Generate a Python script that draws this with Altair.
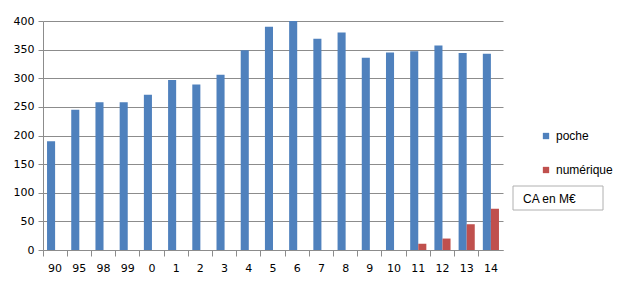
import altair as alt
import pandas as pd

years = ["90", "95", "98", "99", "0", "1", "2", "3", "4", "5", "6", "7", "8", "9", "10", "11", "12", "13", "14"]
poche = [190, 245, 258, 258, 271, 297, 289, 306, 349, 390, 400, 369, 380, 336, 345, 347, 357, 344, 343]
numerique = [0, 0, 0, 0, 0, 0, 0, 0, 0, 0, 0, 0, 0, 0, 0, 11, 20, 45, 72]
series = ["poche", "numérique"]
colors = ["#4F81BD", "#C0504D"]
note = "CA en M€"

rows = []
for y, p, n in zip(years, poche, numerique):
    rows.append({"annee": y, "serie": series[0], "valeur": p})
    rows.append({"annee": y, "serie": series[1], "valeur": n})
df = pd.DataFrame(rows)

grid = "#8c8c8c"

bars = alt.Chart(df).mark_bar(stroke=None).encode(
    x=alt.X("annee:N", sort=years, title=None,
            scale=alt.Scale(paddingInner=0, paddingOuter=0),
            axis=alt.Axis(labelAngle=0, labelFont="DejaVu Sans", labelFontSize=11,
                          labelColor="#000000", domainColor=grid, tickColor=grid,
                          bandPosition=0, tickSize=6, labelPadding=6, grid=False)),
    xOffset=alt.XOffset("serie:N", sort=series,
                        scale=alt.Scale(paddingInner=0, paddingOuter=0.5)),
    y=alt.Y("valeur:Q", title=None,
            scale=alt.Scale(domain=[0, 400], nice=False),
            axis=alt.Axis(values=list(range(0, 401, 50)), labelFont="DejaVu Sans",
                          labelFontSize=11, labelColor="#000000", domainColor=grid,
                          tickColor=grid, tickSize=5, labelPadding=4,
                          gridColor=grid, gridWidth=1)),
    color=alt.Color("serie:N", sort=series,
                    scale=alt.Scale(domain=series, range=colors),
                    legend=alt.Legend(title=None, orient="none", legendX=497, legendY=109,
                                      symbolType="square", symbolSize=40,
                                      symbolStrokeWidth=0,
                                      labelFont="Liberation Sans", labelFontSize=12,
                                      labelColor="#000000", rowPadding=22,
                                      labelOffset=4)),
)

box = alt.Chart(pd.DataFrame({"t": [note]})).mark_rect(
    fill="white", stroke="#b0b0b0", strokeWidth=1, clip=False
).encode(x=alt.value(470), x2=alt.value(560), y=alt.value(165), y2=alt.value(189))

label = alt.Chart(pd.DataFrame({"t": [note]})).mark_text(
    align="left", baseline="middle", font="Liberation Sans", fontSize=12,
    color="#000000", clip=False
).encode(x=alt.value(480), y=alt.value(178), text="t:N")

chart = alt.layer(bars, box, label).properties(
    width=460, height=229,
    autosize=alt.AutoSizeParams(type="none"),
    padding={"left": 43, "top": 21, "right": 121, "bottom": 33},
    background="white",
).configure_view(stroke=None)

chart.save("out.html", embed_options={"renderer": "svg", "actions": False})
